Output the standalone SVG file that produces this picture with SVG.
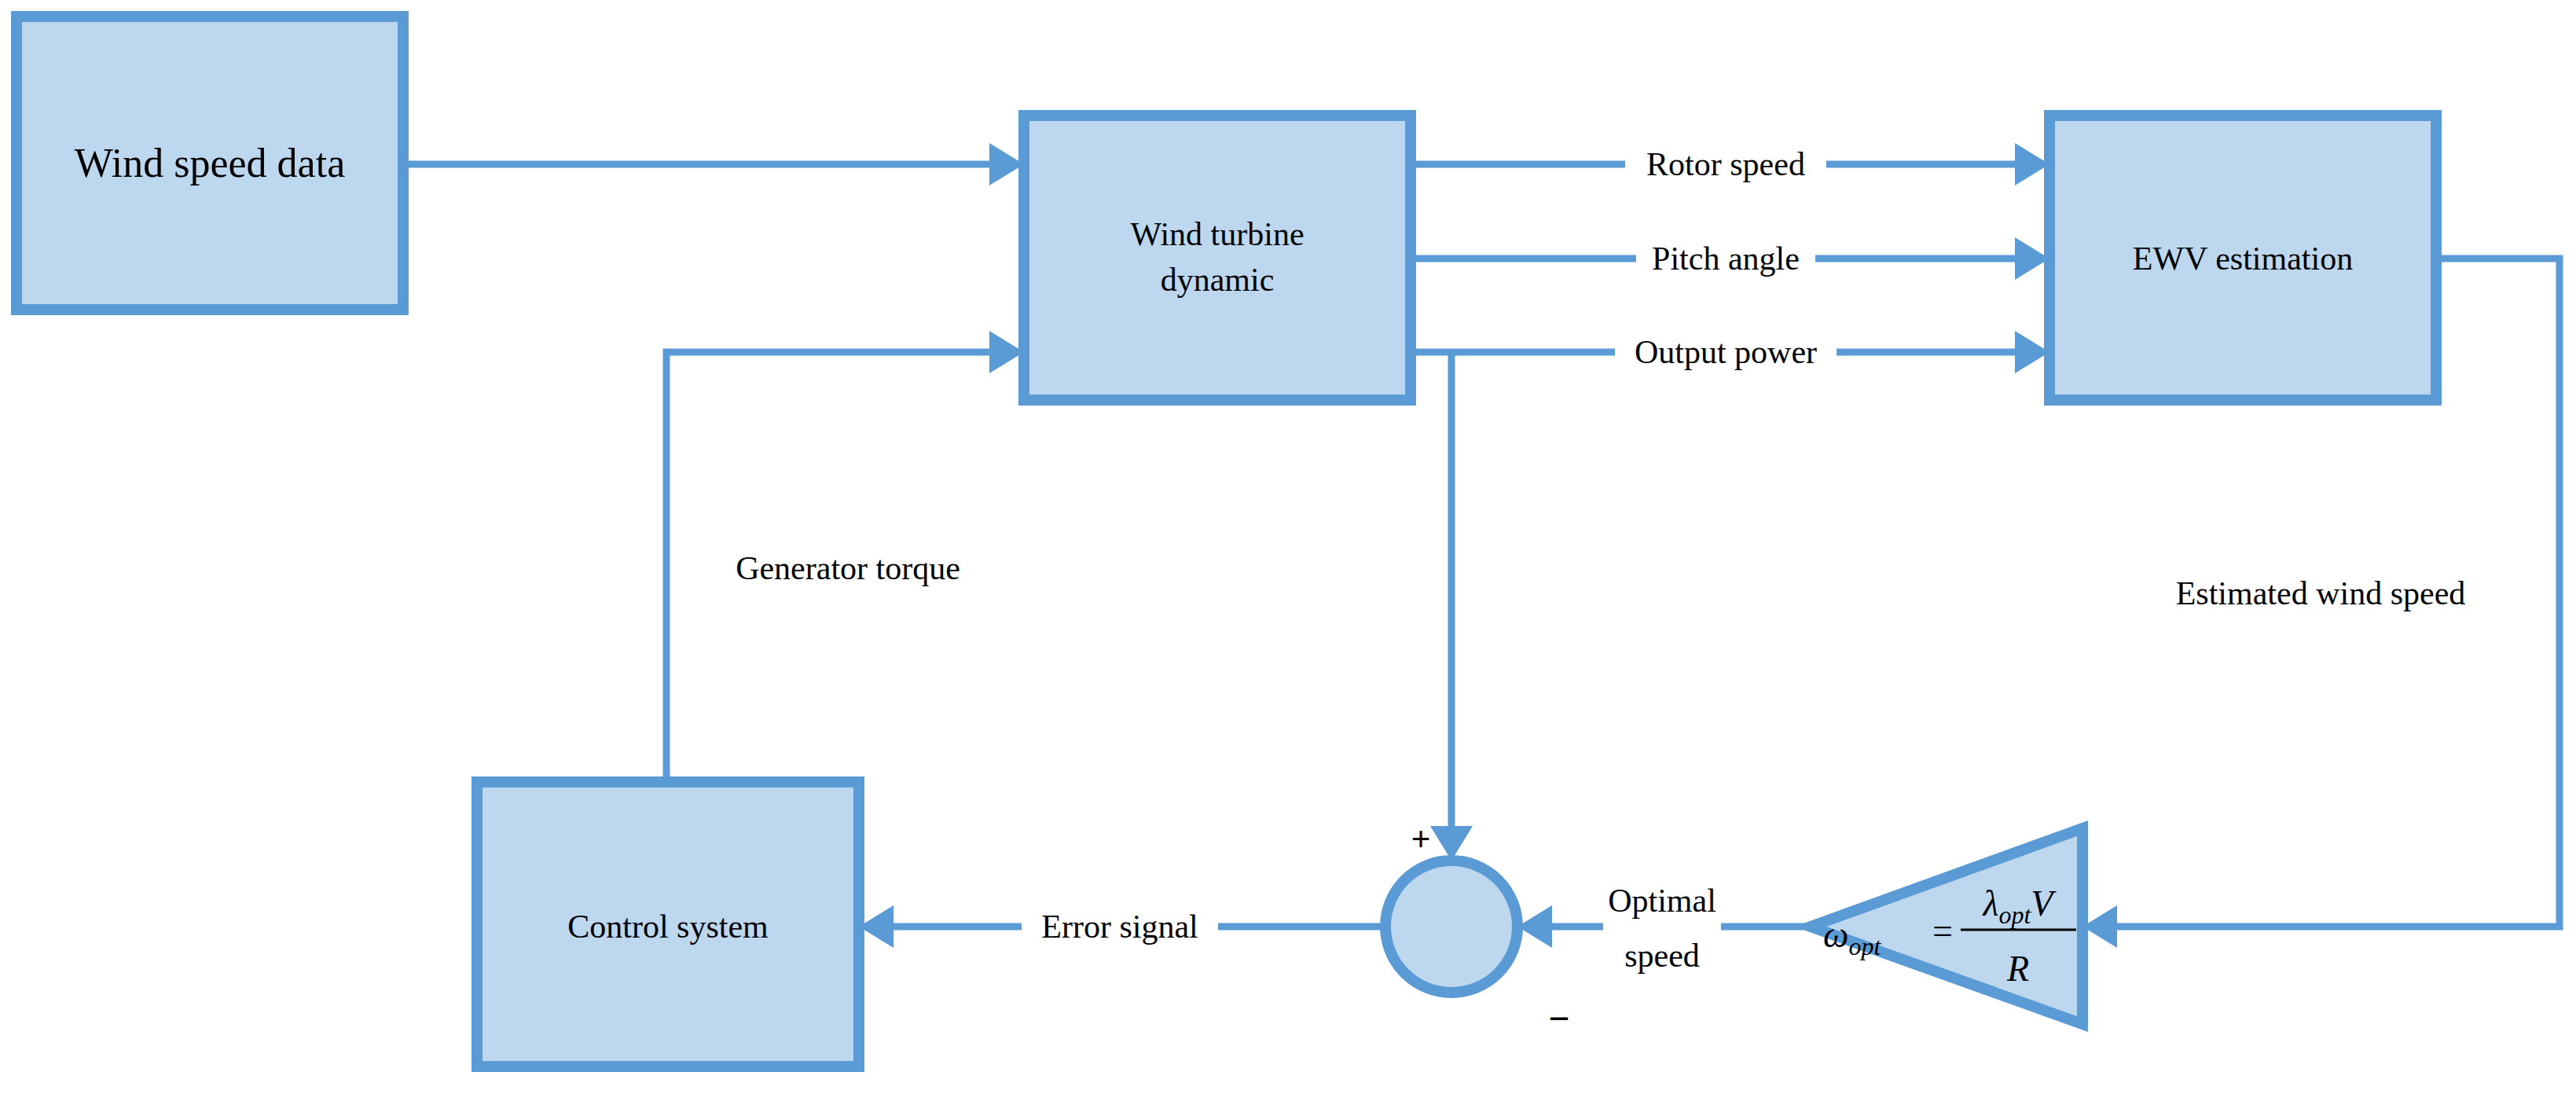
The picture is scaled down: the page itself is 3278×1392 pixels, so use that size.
<svg xmlns="http://www.w3.org/2000/svg" width="3278" height="1392" viewBox="0 0 3278 1392">
<style>
.box{fill:#bdd7ee;stroke:#5b9bd5;stroke-width:14}
.ln{fill:none;stroke:#5b9bd5;stroke-width:9}
.ah{fill:#5b9bd5}
text{font-family:"Liberation Serif","Times New Roman",serif;fill:#000}
.t{font-size:42px}
.bg{fill:#fff}
</style>
<rect width="3278" height="1392" fill="#fff"/>
<g id="connectors">
<path class="ln" d="M513 209H1265"/>
<path class="ln" d="M1795 209H2570"/>
<path class="ln" d="M1795 329H2570"/>
<path class="ln" d="M1795 448H2570"/>
<path class="ln" d="M848 995V448H1265"/>
<path class="ln" d="M1847 448V1055"/>
<path class="ln" d="M3100 329H3257V1179H2690"/>
<path class="ln" d="M2304 1179H1970"/>
<path class="ln" d="M1763 1179H1133"/>
<polygon class="ah" points="1303,209 1259,182 1259,236"/>
<polygon class="ah" points="1303,448 1259,421 1259,475"/>
<polygon class="ah" points="2608,209 2564,182 2564,236"/>
<polygon class="ah" points="2608,329 2564,302 2564,356"/>
<polygon class="ah" points="2608,448 2564,421 2564,475"/>
<polygon class="ah" points="1847,1095 1820,1051 1874,1051"/>
<polygon class="ah" points="2650,1179 2694,1152 2694,1206"/>
<polygon class="ah" points="1931,1179 1975,1152 1975,1206"/>
<polygon class="ah" points="1093,1179 1137,1152 1137,1206"/>
<rect class="bg" x="2068" y="185" width="256" height="46"/>
<text class="t" x="2196" y="223" text-anchor="middle">Rotor speed</text>
<rect class="bg" x="2082" y="305" width="228" height="46"/>
<text class="t" x="2196" y="343" text-anchor="middle">Pitch angle</text>
<rect class="bg" x="2055" y="424" width="282" height="46"/>
<text class="t" x="2196" y="462" text-anchor="middle">Output power</text>
<rect class="bg" x="1300" y="1155" width="250" height="46"/>
<text class="t" x="1425" y="1193" text-anchor="middle">Error signal</text>
<rect class="bg" x="2040" y="1100" width="150" height="150"/>
<text class="t" x="2115" y="1160" text-anchor="middle">Optimal</text>
<text class="t" x="2115" y="1230" text-anchor="middle">speed</text>
<text class="t" x="1079" y="737" text-anchor="middle">Generator torque</text>
<text class="t" x="2953" y="769" text-anchor="middle">Estimated wind speed</text>
<text x="1808" y="1082" font-size="44" text-anchor="middle" font-weight="bold">+</text>
<text x="1984" y="1312" font-size="48" text-anchor="middle" font-weight="bold">−</text>
</g>
<g id="wind-speed-data"><rect class="box" x="21" y="21" width="492" height="373"/><text x="267" y="225" font-size="52" text-anchor="middle">Wind speed data</text></g>
<g id="wind-turbine"><rect class="box" x="1303" y="147" width="492" height="362"/><text class="t" x="1549" y="312" text-anchor="middle">Wind turbine</text><text class="t" x="1549" y="370" text-anchor="middle">dynamic</text></g>
<g id="ewv"><rect class="box" x="2608" y="147" width="492" height="362"/><text class="t" x="2854" y="343" text-anchor="middle">EWV estimation</text></g>
<g id="control"><rect class="box" x="607" y="995" width="486" height="362"/><text class="t" x="850" y="1193" text-anchor="middle">Control system</text></g>
<g id="sum"><circle class="box" cx="1847" cy="1179" r="84"/></g>
<g id="gain"><polygon class="box" points="2304,1179 2650,1054 2650,1303"/>
<text x="2320" y="1205" font-size="46" font-style="italic">ω<tspan font-size="32" dy="10">opt</tspan></text>
<text x="2472" y="1200" font-size="46" text-anchor="middle">=</text>
<line x1="2495" y1="1183" x2="2642" y2="1183" stroke="#000" stroke-width="3"/>
<text x="2568" y="1165" font-size="46" font-style="italic" text-anchor="middle">λ<tspan font-size="32" dy="10">opt</tspan><tspan dy="-10">V</tspan></text>
<text x="2568" y="1248" font-size="46" font-style="italic" text-anchor="middle">R</text>
</g>
</svg>
